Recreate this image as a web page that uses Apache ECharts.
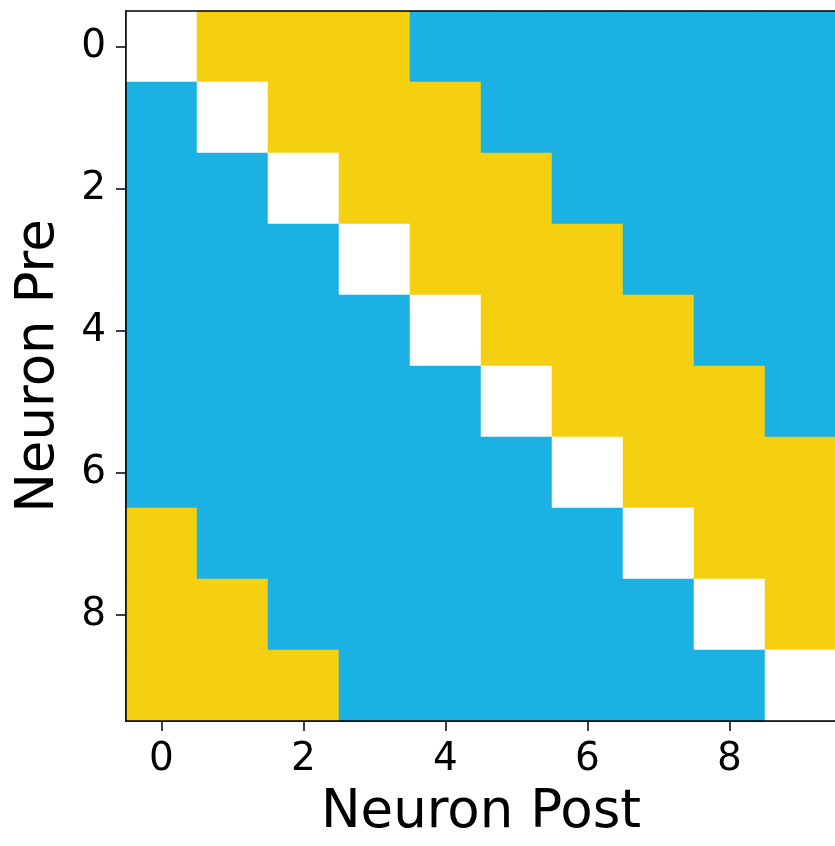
<!DOCTYPE html>
<html><head><meta charset="utf-8">
<script src="https://cdn.jsdelivr.net/npm/echarts@6/dist/echarts.min.js"></script>
<style>html,body{margin:0;padding:0;background:#fff}#c{width:835px;height:846px}</style>
</head><body><div id="c"></div>
<script>
var postLabels = ['0','1','2','3','4','5','6','7','8','9'];
var preLabels = ['0','1','2','3','4','5','6','7','8','9'];
// 0 = self (white), 1 = excitatory (yellow), 2 = inhibitory (blue)
var row0 = [0,1,1,1,2,2,2,2,2,2];
var row1 = [2,0,1,1,1,2,2,2,2,2];
var row2 = [2,2,0,1,1,1,2,2,2,2];
var row3 = [2,2,2,0,1,1,1,2,2,2];
var row4 = [2,2,2,2,0,1,1,1,2,2];
var row5 = [2,2,2,2,2,0,1,1,1,2];
var row6 = [2,2,2,2,2,2,0,1,1,1];
var row7 = [1,2,2,2,2,2,2,0,1,1];
var row8 = [1,1,2,2,2,2,2,2,0,1];
var row9 = [1,1,1,2,2,2,2,2,2,0];
var rows = [row0,row1,row2,row3,row4,row5,row6,row7,row8,row9];

var data = [];
rows.forEach(function(r, i){ r.forEach(function(v, j){ data.push([j, i, v]); }); });

var font = 'DejaVu Sans';
var chart = echarts.init(document.getElementById('c'), null, {renderer:'canvas'});
chart.setOption({
  animation:false,
  backgroundColor:'#fff',
  grid:{left:126, top:11, width:710, height:710, outerBoundsMode:'none', containLabel:false,
    show:true, borderColor:'#000', borderWidth:1.5, backgroundColor:'transparent', z:10},
  xAxis:{type:'category', data:postLabels, position:'bottom',
    axisLine:{show:true, lineStyle:{color:'#000', width:1.5}},
    axisTick:{show:true, interval:1, alignWithLabel:true, length:10, lineStyle:{color:'#000', width:1.5}},
    axisLabel:{interval:1, fontFamily:font, fontSize:39, color:'#000', margin:19},
    splitLine:{show:false}, splitArea:{show:false},
    name:'Neuron Post', nameLocation:'middle', nameGap:66,
    nameTextStyle:{fontFamily:font, fontSize:53, color:'#000'}
  },
  yAxis:{type:'category', data:preLabels, inverse:true,
    axisLine:{show:true, lineStyle:{color:'#000', width:1.5}},
    axisTick:{show:true, interval:1, alignWithLabel:true, length:10, lineStyle:{color:'#000', width:1.5}},
    axisLabel:{interval:1, fontFamily:font, fontSize:39, color:'#000', margin:20},
    splitLine:{show:false}, splitArea:{show:false},
    name:'Neuron Pre', nameLocation:'middle', nameGap:60,
    nameTextStyle:{fontFamily:font, fontSize:53, color:'#000'}
  },
  visualMap:{type:'piecewise', show:false, dimension:2,
    pieces:[{value:0, color:'#ffffff'},{value:1, color:'#f5d010'},{value:2, color:'#1bb1e3'}]},
  series:[{type:'heatmap', data:data, itemStyle:{borderWidth:0}, emphasis:{disabled:true}}]
});
</script></body></html>
